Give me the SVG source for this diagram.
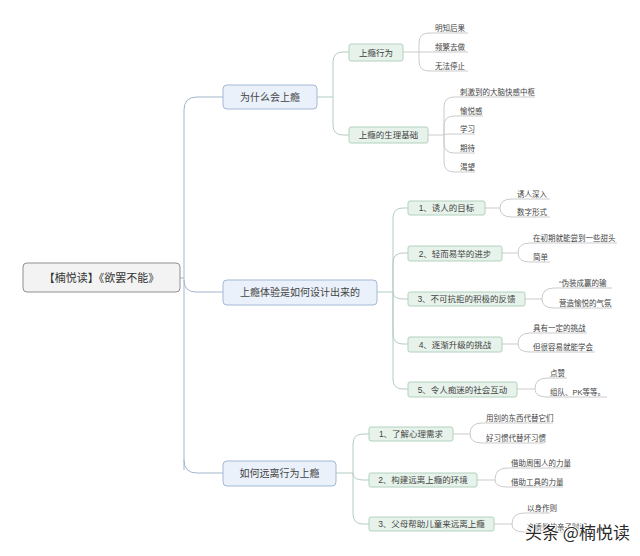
<svg xmlns="http://www.w3.org/2000/svg" width="640" height="556" viewBox="0 0 640 556">
<style>
text{font-family:"Liberation Sans","Noto Sans CJK SC",sans-serif;fill:#444}
.root{fill:#f3f3f3;stroke:#909090;stroke-width:1}
.t1{fill:#eaf1fa;stroke:#a3b9d5;stroke-width:1}
.t2{fill:#e6f2ea;stroke:#b2d2bf;stroke-width:1}
.rt{font-size:11px;text-anchor:middle;fill:#333}
.l1{font-size:10px;text-anchor:middle}
.l2{font-size:8.5px;text-anchor:middle}
.lf{font-size:7.5px}
.c0{fill:none;stroke:#a3b6ce;stroke-width:1}
.c1{fill:none;stroke:#b3cdbf;stroke-width:1}
.c2{fill:none;stroke:#cbcbcb;stroke-width:1}
.wm{font-size:17px;fill:#2a2a2a;stroke:#fff;stroke-width:2;paint-order:stroke;font-family:"Noto Sans CJK SC",sans-serif}
</style>
<rect width="640" height="556" fill="#fff"/>
<g id="connectors">
<!-- root to level 1 -->
<path class="c0" d="M180,278 H184 M184,110 V470 M184,110 Q184,97 197,97 H223 M184,460 Q184,473 197,473 H223 M184,280 Q184,292 196,292 H223"/>
<!-- section A -->
<path class="c1" d="M317,97 H333 M333,97 V62 Q333,52 343,52 H349 M333,97 V125 Q333,135 343,135 H349"/>
<path class="c2" d="M403,52 H468 M419,52 V43 Q419,33 429,33 H468 M419,52 V61 Q419,71 429,71 H468"/>
<path class="c2" d="M428,135 H444 M444,135 V107 Q444,97 454,97 H535 M444,135 V126 Q444,116 454,116 H483 M444,135 Q444,134 454,134 H475 M444,135 V143 Q444,153 454,153 H475 M444,135 V162 Q444,172 454,172 H475"/>
<!-- section B -->
<path class="c1" d="M377,292 H393 M393,292 V218 Q393,208 403,208 H408 M393,292 V263 Q393,253 403,253 H408 M393,292 Q393,299 403,299 H408 M393,292 V334 Q393,344 403,344 H408 M393,292 V379 Q393,389 403,389 H408"/>
<path class="c2" d="M485,208 H500 M500,208 Q500,199 512,199 H550 M500,208 Q500,217 512,217 H550"/>
<path class="c2" d="M502,253 H518 M518,253 Q518,243 530,243 H617 M518,253 Q518,262 530,262 H550"/>
<path class="c2" d="M525,299 H542 M542,299 Q542,288 554,288 H612 M542,299 Q542,308 554,308 H612"/>
<path class="c2" d="M502,344 H518 M518,344 Q518,333 530,333 H587 M518,344 Q518,352 530,352 H595"/>
<path class="c2" d="M517,389 H535 M535,389 Q535,378 547,378 H567 M535,389 Q535,397 547,397 H607"/>
<!-- section C -->
<path class="c1" d="M336,473 H353 M353,473 V444 Q353,434 363,434 H369 M353,473 Q353,480 363,480 H369 M353,473 V514 Q353,524 363,524 H369"/>
<path class="c2" d="M453,434 H470 M470,434 Q470,423 482,423 H553 M470,434 Q470,443 482,443 H545"/>
<path class="c2" d="M477,480 H495 M495,480 Q495,468 507,468 H570 M495,480 Q495,487 507,487 H563"/>
<path class="c2" d="M494,524 H512 M512,524 Q512,513 524,513 H550 M512,524 Q512,532 524,532 H600"/>
</g>
<g id="root"><rect class="root" x="23" y="263" width="157" height="29" rx="4"/><text class="rt" x="101.5" y="282">【楠悦读】《欲罢不能》</text></g>
<g id="n-why"><rect class="t1" x="223" y="85" width="94" height="24" rx="4"/><text class="l1" x="270" y="100.5">为什么会上瘾</text></g>
<g id="n-design"><rect class="t1" x="223" y="280" width="154" height="25" rx="4"/><text class="l1" x="300" y="296">上瘾体验是如何设计出来的</text></g>
<g id="n-away"><rect class="t1" x="223" y="461" width="113" height="25" rx="4"/><text class="l1" x="279.5" y="477">如何远离行为上瘾</text></g>
<g id="n-a1"><rect class="t2" x="349" y="44" width="54" height="17" rx="2"/><text class="l2" x="376" y="55.5">上瘾行为</text></g>
<g id="n-a2"><rect class="t2" x="349" y="127" width="79" height="16" rx="2"/><text class="l2" x="388.5" y="138">上瘾的生理基础</text></g>
<g id="n-b1"><rect class="t2" x="408" y="201" width="77" height="14" rx="2"/><text class="l2" x="446.5" y="211">1、诱人的目标</text></g>
<g id="n-b2"><rect class="t2" x="408" y="246" width="94" height="15" rx="2"/><text class="l2" x="455" y="256.5">2、轻而易举的进步</text></g>
<g id="n-b3"><rect class="t2" x="408" y="292" width="117" height="14" rx="2"/><text class="l2" x="466.5" y="302">3、不可抗拒的积极的反馈</text></g>
<g id="n-b4"><rect class="t2" x="408" y="337" width="94" height="15" rx="2"/><text class="l2" x="455" y="347.5">4、逐渐升级的挑战</text></g>
<g id="n-b5"><rect class="t2" x="408" y="382" width="109" height="15" rx="2"/><text class="l2" x="462.5" y="392.5">5、令人痴迷的社会互动</text></g>
<g id="n-c1"><rect class="t2" x="369" y="427" width="84" height="14" rx="2"/><text class="l2" x="411" y="437">1、了解心理需求</text></g>
<g id="n-c2"><rect class="t2" x="369" y="473" width="108" height="14" rx="2"/><text class="l2" x="423" y="483">2、构建远离上瘾的环境</text></g>
<g id="n-c3"><rect class="t2" x="369" y="517" width="125" height="14" rx="2"/><text class="l2" x="431.5" y="527">3、父母帮助儿童来远离上瘾</text></g>
<g id="leaves">
<text class="lf" x="435" y="30.5">明知后果</text>
<text class="lf" x="435" y="49.5">频繁去做</text>
<text class="lf" x="435" y="68.5">无法停止</text>
<text class="lf" x="460" y="94.5">刺激到的大脑快感中枢</text>
<text class="lf" x="460" y="113.5">愉悦感</text>
<text class="lf" x="460" y="131.5">学习</text>
<text class="lf" x="460" y="150.5">期待</text>
<text class="lf" x="460" y="169.5">渴望</text>
<text class="lf" x="517" y="196.5">诱人深入</text>
<text class="lf" x="517" y="214.5">数字形式</text>
<text class="lf" x="533" y="240.5">在初期就能尝到一些甜头</text>
<text class="lf" x="533" y="259.5">简单</text>
<text class="lf" x="559" y="285.5">“伪装成赢的输</text>
<text class="lf" x="559" y="305.5">营造愉悦的气氛</text>
<text class="lf" x="533" y="330.5">具有一定的挑战</text>
<text class="lf" x="533" y="349.5">但很容易就能学会</text>
<text class="lf" x="550" y="375.5">点赞</text>
<text class="lf" x="550" y="394.5">组队、PK等等。</text>
<text class="lf" x="486" y="420.5">用别的东西代替它们</text>
<text class="lf" x="486" y="440.5">好习惯代替坏习惯</text>
<text class="lf" x="511" y="465.5">借助周围人的力量</text>
<text class="lf" x="511" y="484.5">借助工具的力量</text>
<text class="lf" x="527" y="510.5">以身作则</text>
<text class="lf" x="527" y="529.5">高质量的亲子时间</text>
</g>
<text class="wm" x="525" y="539">头条 @楠悦读</text>
</svg>
